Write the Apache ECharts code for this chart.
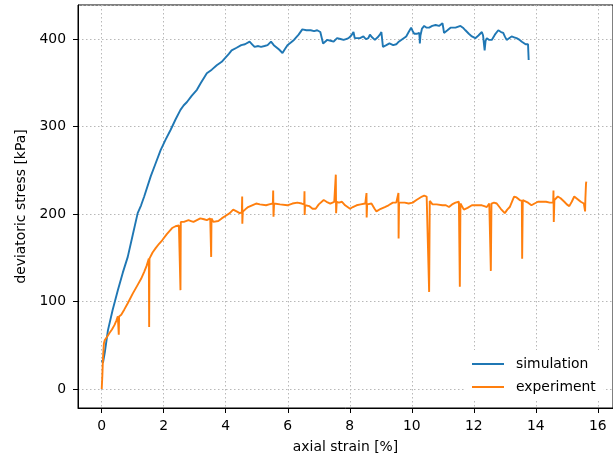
<!DOCTYPE html>
<html>
<head>
<meta charset="utf-8">
<script src="https://cdn.jsdelivr.net/npm/echarts@6/dist/echarts.min.js"></script>
<style>
html,body{margin:0;padding:0;background:#fff;}
#chart{width:613px;height:459px;}
</style>
</head>
<body>
<div id="chart"></div>
<script>
const seriesNames = ['simulation', 'experiment'];
const xTickLabels = ['0', '2', '4', '6', '8', '10', '12', '14', '16'];
const yTickLabels = ['0', '100', '200', '300', '400'];

const simStrain = [0,0.04,0.1,0.2,0.35,0.52,0.68,0.84,1.0,1.16,1.27,1.37,1.58,1.74,1.9,2.06,2.22,2.38,2.54,2.64,2.75,2.9,3.07,3.2,3.39,3.55,3.71,3.87,3.97,4.03,4.1,4.19,4.35,4.5,4.62,4.77,4.85,4.93,5.05,5.14,5.25,5.35,5.46,5.55,5.62,5.72,5.83,5.9,5.99,6.1,6.2,6.35,6.47,6.6,6.74,6.85,6.95,7.05,7.1,7.14,7.2,7.27,7.38,7.48,7.59,7.7,7.8,7.88,7.96,8.05,8.12,8.16,8.22,8.33,8.44,8.52,8.6,8.65,8.72,8.81,8.9,8.97,9.02,9.05,9.07,9.18,9.28,9.4,9.5,9.58,9.66,9.74,9.82,9.9,9.98,10.03,10.08,10.16,10.24,10.255,10.26,10.28,10.33,10.4,10.48,10.56,10.66,10.77,10.88,10.99,11.02,11.04,11.15,11.25,11.41,11.57,11.65,11.73,11.84,11.94,12.05,12.15,12.26,12.3,12.35,12.38,12.42,12.5,12.58,12.68,12.79,12.88,12.95,13.0,13.06,13.14,13.22,13.3,13.38,13.48,13.55,13.59,13.67,13.75,13.76,13.77];
const simStress = [33,30,42,67,90,113,133,151,176,201,210,220,243,258,273,285,296,308,319,324,328,335,342,350,361,365,370,374,378,378,383,387,390,393,394,397,394,391,392,391,392,393,397,393,391,388,384,388,393,396,399,405,411,410,410,409,410,408,406,395,397,399,398,397,401,400,399,400,401,404,408,401,399,401,403,400,401,405,402,399,402,405,408,398,391,393,395,393,394,397,399,401,403,408,413,409,406,406,407,400,395,404,412,415,413,413,415,416,415,418,412,407,410,413,413,415,413,410,406,403,401,404,408,404,387,398,401,399,399,405,410,408,407,403,399,401,403,402,401,399,397,395,394,394,385,376];

const expStrain = [0,0.02,0.04,0.07,0.1,0.18,0.25,0.33,0.41,0.47,0.52,0.54,0.55,0.56,0.63,0.73,0.84,1.0,1.16,1.27,1.37,1.45,1.52,1.53,1.54,1.64,1.74,1.85,1.95,2.1,2.27,2.38,2.49,2.53,2.54,2.55,2.65,2.8,2.88,2.96,3.07,3.18,3.3,3.39,3.5,3.52,3.53,3.54,3.6,3.65,3.76,3.87,4.0,4.13,4.24,4.35,4.45,4.52,4.53,4.535,4.55,4.62,4.72,4.85,4.98,5.1,5.3,5.4,5.52,5.53,5.54,5.56,5.75,5.99,6.15,6.31,6.45,6.53,6.54,6.545,6.56,6.7,6.8,6.9,7.0,7.16,7.25,7.37,7.5,7.545,7.55,7.56,7.58,7.65,7.75,7.85,8.01,8.1,8.22,8.35,8.5,8.53,8.54,8.545,8.56,8.7,8.8,8.86,9.0,9.13,9.25,9.39,9.5,9.56,9.57,9.575,9.59,9.77,9.9,10.03,10.15,10.24,10.33,10.4,10.48,10.54,10.56,10.58,10.67,10.8,10.99,11.1,11.2,11.3,11.41,11.52,11.55,11.57,11.68,11.8,11.94,12.1,12.26,12.34,12.42,12.5,12.54,12.55,12.57,12.65,12.74,12.87,13.0,13.08,13.16,13.23,13.3,13.38,13.48,13.55,13.56,13.58,13.64,13.75,13.86,13.96,14.07,14.2,14.33,14.45,14.56,14.57,14.58,14.6,14.71,14.8,14.92,15.0,15.08,15.16,15.24,15.35,15.45,15.55,15.58,15.59,15.6,15.62,15.63];
const expStress = [0,15,35,52,56,60,64,68,73,78,83,82,62,83,85,91,98,109,119,126,134,141,149,71,149,156,161,166,170,177,184,186,187,188,113,191,191,193,192,191,193,195,194,193,195,197,151,195,191,189,192,195,198,201,205,203,201,202,220,189,203,205,208,210,212,211,210,211,212,227,197,212,211,210,212,213,212,211,226,199,210,209,206,206,211,216,214,212,214,213,245,201,214,213,214,210,206,208,210,211,212,211,224,196,211,212,206,203,206,208,210,213,213,213,224,172,213,213,212,213,216,218,220,221,220,218,111,215,211,211,210,210,208,211,213,214,117,212,205,207,210,210,210,209,208,212,213,135,212,213,212,206,201,205,208,214,220,219,216,215,149,216,216,213,210,212,214,214,214,213,213,227,191,216,220,218,214,211,209,214,220,217,214,212,214,203,218,235,237];

const simData = simStrain.map((x, i) => [x, simStress[i]]);
const expData = expStrain.map((x, i) => [x, expStress[i]]);

const font = 'DejaVu Sans';
const fs = 13.9;
const chart = echarts.init(document.getElementById('chart'), null, {renderer: 'canvas'});
chart.setOption({
  animation: false,
  backgroundColor: '#fff',
  textStyle: {fontFamily: font},
  grid: {left: 78, top: 5, right: -6, bottom: 51, show: true, borderColor: '#000', borderWidth: 1, backgroundColor: 'transparent'},
  legend: {
    data: seriesNames,
    left: 466, top: 350, orient: 'vertical',
    backgroundColor: '#fff', padding: [6, 8, 6, 6],
    icon: 'rect', itemWidth: 32, itemHeight: 2, itemGap: 7,
    textStyle: {fontFamily: font, fontSize: fs, color: '#000', lineHeight: 16, padding: [0, 0, 0, 7]}
  },
  xAxis: {
    type: 'value', min: -0.765, max: 16.49, splitNumber: 8,
    name: 'axial strain [%]', nameLocation: 'middle', nameGap: 32,
    nameTextStyle: {fontFamily: font, fontSize: fs, color: '#000'},
    axisLine: {show: true, onZero: false, lineStyle: {color: '#000', width: 1}},
    axisTick: {show: true, length: 5, lineStyle: {color: '#000'}},
    axisLabel: {
      showMinLabel: false, showMaxLabel: false, margin: 11,
      fontFamily: font, fontSize: fs, color: '#000',
      formatter: v => { const s = String(Math.round(v)); return (Math.abs(v - Math.round(v)) < 1e-6 && xTickLabels.includes(s)) ? s : ''; }
    },
    splitLine: {show: true, lineStyle: {color: '#b8b8b8', type: [1.5, 2.5], width: 1}}
  },
  yAxis: {
    type: 'value', min: -21.7, max: 438.9, splitNumber: 5,
    name: 'deviatoric stress [kPa]', nameLocation: 'middle', nameGap: 48,
    nameTextStyle: {fontFamily: font, fontSize: fs, color: '#000'},
    axisLine: {show: true, onZero: false, lineStyle: {color: '#000', width: 1}},
    axisTick: {show: true, length: 5, lineStyle: {color: '#000'}},
    axisLabel: {
      showMinLabel: false, showMaxLabel: false, margin: 12,
      fontFamily: font, fontSize: fs, color: '#000',
      formatter: v => { const s = String(Math.round(v)); return (Math.abs(v - Math.round(v)) < 1e-6 && yTickLabels.includes(s)) ? s : ''; }
    },
    splitLine: {show: true, lineStyle: {color: '#b8b8b8', type: [1.5, 2.5], width: 1}}
  },
  series: [
    {name: seriesNames[0], type: 'line', data: simData, symbol: 'none', showSymbol: false,
     lineStyle: {color: '#1f77b4', width: 1.9}, itemStyle: {color: '#1f77b4'}},
    {name: seriesNames[1], type: 'line', data: expData, symbol: 'none', showSymbol: false,
     lineStyle: {color: '#ff7f0e', width: 1.9}, itemStyle: {color: '#ff7f0e'}}
  ]
});
</script>
</body>
</html>
